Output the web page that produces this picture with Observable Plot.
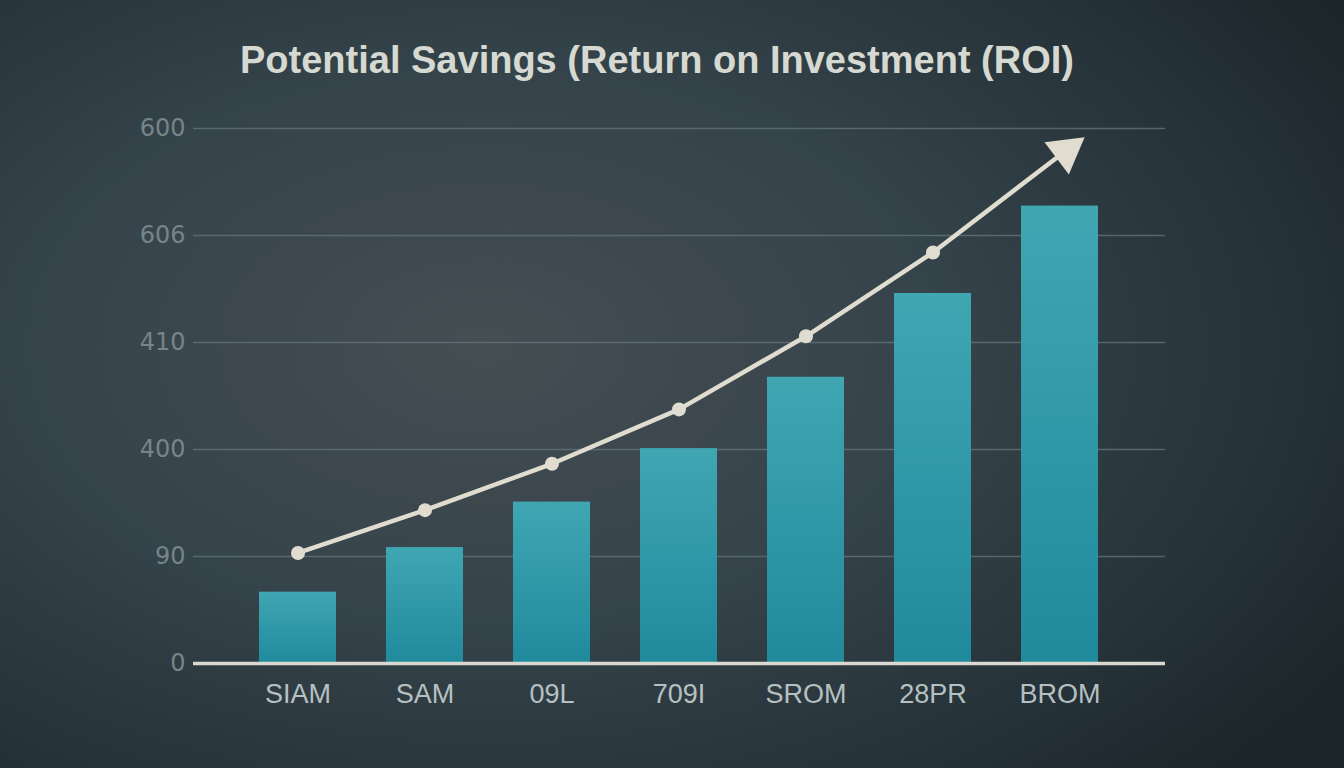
<!DOCTYPE html>
<html>
<head>
<meta charset="utf-8">
<script src="https://cdn.jsdelivr.net/npm/d3@7"></script>
<script src="https://cdn.jsdelivr.net/npm/@observablehq/plot@0.6"></script>
<style>
  html, body { margin: 0; padding: 0; }
  body {
    width: 1344px; height: 768px; overflow: hidden; position: relative;
    background: radial-gradient(ellipse 75% 80% at 36% 45%, #454e53 0%, #35434a 45%, #253238 80%, #1c262b 100%);
    font-family: "Liberation Sans", Arial, sans-serif;
  }
  #title {
    position: absolute; left: 0; top: 36px; width: 1314px; text-align: center;
    font-size: 38px; line-height: 48px; font-weight: bold; color: #d6d9d1;
    letter-spacing: 0px;
  }
  #chart { position: absolute; left: 0; top: 100px; }
</style>
</head>
<body>
<div id="title">Potential Savings (Return on Investment (ROI)</div>
<div id="chart"></div>
<script>
const categories = ["SIAM", "SAM", "09L", "709I", "SROM", "28PR", "BROM"];
const barValues = [80, 130, 181, 241, 321, 415, 513];
const lineCategories = ["SIAM", "SAM", "09L", "709I", "SROM", "28PR"];
const lineValues = [124, 172, 224, 285, 367, 461];
const arrowEnd = {cat: "BROM", value: 570};
const yTicks = [0, 120, 240, 360, 480, 600];
const yTickLabels = ["0", "90", "400", "410", "606", "600"];

const bars = categories.map((c, i) => ({cat: c, value: barValues[i]}));
const points = lineCategories.map((c, i) => ({cat: c, value: lineValues[i]}));
const linePath = [...points, arrowEnd];

const defs = () => {
  const d = d3.create("svg:defs");
  const g = d.append("linearGradient").attr("id", "barGrad")
    .attr("x1", 0).attr("y1", 0).attr("x2", 0).attr("y2", 1);
  g.append("stop").attr("offset", "0%").attr("stop-color", "#3fa6b2");
  g.append("stop").attr("offset", "100%").attr("stop-color", "#208a9d");
  return d.node();
};

const chart = Plot.plot({
  width: 1344,
  height: 668,
  marginTop: 28,
  marginBottom: 105,
  marginLeft: 193,
  marginRight: 179,
  style: {background: "transparent", fontFamily: "'Liberation Sans', Arial, sans-serif"},
  x: {domain: categories, paddingInner: 0.39, paddingOuter: 0.5, label: null},
  y: {domain: [0, 600], label: null},
  marks: [
    defs,
    Plot.ruleY(yTicks.slice(1), {stroke: "#627278", strokeWidth: 1.5, strokeOpacity: 0.8}),
    Plot.barY(bars, {x: "cat", y: "value", fill: "url(#barGrad)"}),
    Plot.ruleY([0], {stroke: "#d9d9d2", strokeWidth: 3.5}),
    Plot.axisY({ticks: yTicks, tickFormat: (d) => yTickLabels[yTicks.indexOf(d)], tickSize: 0, tickPadding: 8, fontSize: 24, fontFamily: "'DejaVu Sans', sans-serif", fill: "#75858a", label: null}),
    Plot.axisX({tickSize: 0, tickPadding: 20, fontSize: 27, fill: "#b7c0c1", label: null}),
    Plot.line(linePath, {x: "cat", y: "value", stroke: "#e0ddd0", strokeWidth: 4.5}),
    Plot.dot(points, {x: "cat", y: "value", r: 7, fill: "#e0ddd0"}),
    Plot.dot([arrowEnd], {x: "cat", y: "value", symbol: "triangle", r: 15, fill: "#e0ddd0", rotate: 53, dx: 6, dy: -4})
  ]
});
document.getElementById("chart").appendChild(chart);
</script>
</body>
</html>
